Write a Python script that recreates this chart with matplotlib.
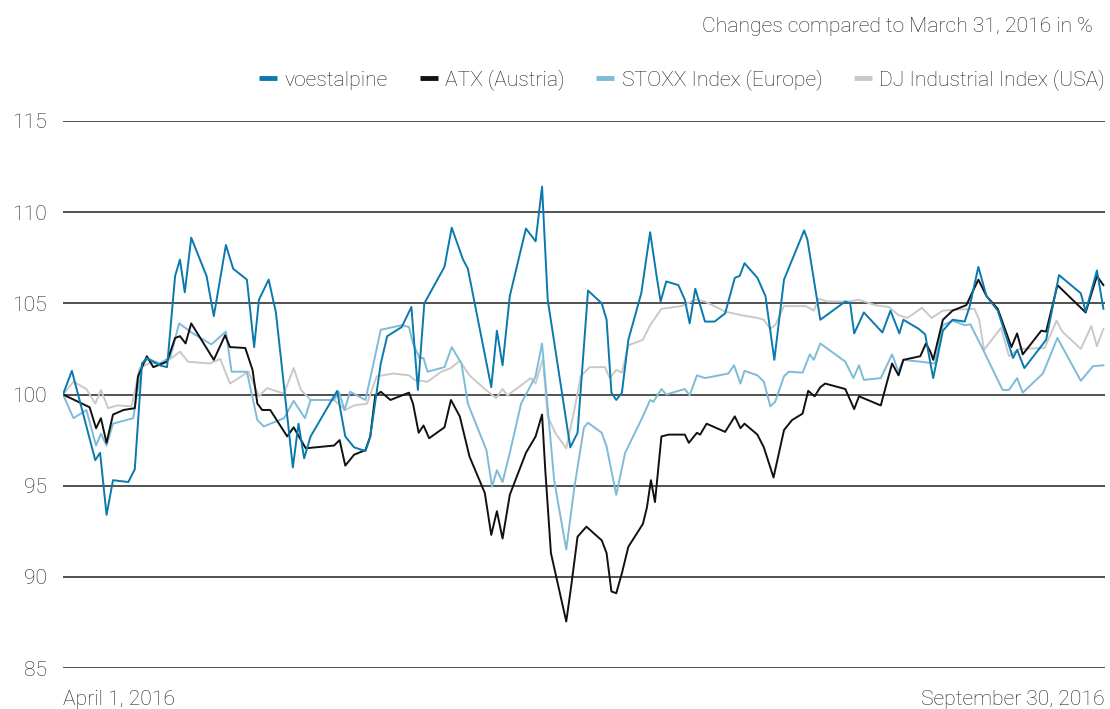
import matplotlib
matplotlib.use("Agg")
import matplotlib.pyplot as plt
from matplotlib.lines import Line2D

plt.rcParams['font.family'] = ['Roboto', 'DejaVu Sans']
plt.rcParams['font.weight'] = 'light'

# trading-day index (0 = April 1, 2016 ... 129 = September 30, 2016)
voest_x = [0, 1.1, 4.0, 4.6, 5.4, 6.2, 8.1, 8.9, 9.8, 10.4, 12.0, 12.9, 13.9, 14.5, 15.1, 15.9, 17.8, 18.7,
           20.2, 21.1, 22.8, 23.7, 24.3, 25.5, 26.4, 28.5, 29.2, 29.9, 30.7, 34.0, 34.4, 35.0, 36.1, 37.5,
           38.1, 39.4, 40.2, 42.0, 43.2, 44.0, 44.8, 47.3, 48.2, 49.6, 50.2, 53.1, 53.8, 54.5, 55.4, 57.4,
           58.6, 59.4, 60.1, 62.9, 63.8, 65.1, 66.8, 67.4, 68.0, 68.6, 69.3, 70.1, 71.7, 72.8, 73.6, 74.1,
           74.8, 76.3, 77.1, 77.7, 78.4, 79.6, 80.8, 82.1, 83.3, 83.9, 84.5, 86.1, 87.1, 88.2, 89.4, 91.9,
           92.3, 93.9, 97.0, 97.6, 98.1, 99.3, 101.6, 102.6, 103.7, 104.2, 106.1, 106.9, 107.6, 107.9,
           109.1, 110.3, 111.8, 112.4, 113.5, 114.5, 115.9, 117.8, 118.3, 119.2, 121.9, 123.5, 126.2,
           126.8, 128.2, 129.0]
voest_y = [100.0, 101.3, 96.4, 96.8, 93.4, 95.3, 95.2, 95.9, 101.7, 102.0, 101.6, 101.5, 106.5, 107.4, 105.6,
           108.6, 106.5, 104.3, 108.2, 106.9, 106.3, 102.6, 105.2, 106.3, 104.5, 96.0, 98.4, 96.5, 97.7,
           100.2, 99.15, 97.7, 97.1, 96.9, 97.7, 101.7, 103.2, 103.7, 104.8, 100.25, 105.0, 107.0, 109.15,
           107.4, 106.9, 100.4, 103.5, 101.6, 105.4, 109.1, 108.4, 111.4, 105.2, 97.1, 97.9, 105.7, 105.0,
           104.1, 100.1, 99.7, 100.1, 103.0, 105.55, 108.9, 106.5, 105.1, 106.2, 106.0, 105.2, 103.9, 105.8,
           104.0, 104.0, 104.45, 106.4, 106.5, 107.2, 106.4, 105.4, 101.9, 106.3, 109.0, 108.5, 104.1,
           105.1, 105.0, 103.35, 104.5, 103.4, 104.6, 103.35, 104.1, 103.6, 103.3, 101.6, 100.9, 103.5,
           104.1, 104.0, 104.8, 107.0, 105.4, 104.6, 102.0, 102.45, 101.45, 103.0, 106.55, 105.55, 104.55,
           106.8, 104.7]

atx_x = [0, 3.3, 4.1, 4.7, 5.4, 6.2, 7.5, 8.9, 9.3, 10.4, 11.2, 12.9, 13.9, 14.5, 15.2, 15.9, 18.7, 20.1,
         20.7, 22.6, 23.5, 24.1, 24.7, 25.7, 27.8, 28.6, 30.1, 33.6, 34.3, 35.0, 36.1, 37.5, 38.1, 38.7,
         39.4, 40.6, 42.9, 43.4, 44.1, 44.7, 45.4, 47.3, 48.1, 49.2, 50.4, 52.3, 53.1, 53.8, 54.5, 55.4,
         57.4, 58.6, 59.4, 59.8, 60.5, 62.4, 63.0, 63.8, 64.9, 66.8, 67.4, 68.0, 68.6, 69.3, 70.1, 71.9,
         72.4, 72.9, 73.4, 74.2, 75.1, 77.1, 77.6, 78.6, 79.0, 79.8, 82.1, 83.3, 84.0, 84.5, 86.1, 86.9,
         88.1, 89.4, 90.4, 91.7, 92.4, 93.2, 93.9, 94.5, 97.0, 98.1, 98.7, 101.4, 102.0, 102.8, 103.6,
         104.2, 106.3, 107.0, 107.6, 107.9, 109.1, 110.3, 112.0, 113.5, 114.5, 115.9, 117.6, 118.3,
         119.0, 121.3, 121.9, 123.3, 126.8, 128.2, 129.0]
atx_y = [100.0, 99.3, 98.15, 98.7, 97.35, 98.9, 99.15, 99.25, 101.0, 102.1, 101.5, 101.8, 103.1, 103.2,
         102.8, 103.9, 101.9, 103.25, 102.6, 102.55, 101.35, 99.5, 99.15, 99.15, 97.7, 98.2, 97.05, 97.2,
         97.5, 96.1, 96.7, 96.95, 97.7, 99.9, 100.15, 99.7, 100.1, 99.5, 97.9, 98.3, 97.6, 98.2, 99.7,
         98.8, 96.6, 94.6, 92.3, 93.6, 92.1, 94.5, 96.8, 97.7, 98.9, 95.85, 91.3, 87.55, 89.45, 92.2,
         92.75, 92.0, 91.3, 89.2, 89.1, 90.2, 91.65, 92.9, 93.8, 95.3, 94.1, 97.7, 97.8, 97.8, 97.35,
         97.9, 97.8, 98.4, 97.95, 98.8, 98.15, 98.4, 97.8, 97.1, 95.45, 98.05, 98.6, 98.95, 100.2, 99.9,
         100.4, 100.6, 100.3, 99.2, 99.9, 99.4, 100.4, 101.7, 101.05, 101.9, 102.1, 102.8, 102.3, 101.9,
         104.1, 104.6, 104.9, 106.3, 105.4, 104.7, 102.6, 103.35, 102.2, 103.5, 103.45, 106.0, 104.5,
         106.5, 106.0]

stoxx_x = [0, 1.3, 2.9, 4.1, 4.7, 5.4, 6.2, 8.7, 9.8, 10.6, 12.0, 13.3, 14.4, 16.1, 18.4, 20.2, 20.9, 22.8,
           24.1, 24.9, 27.4, 28.6, 30.0, 30.7, 33.6, 34.2, 34.9, 35.6, 37.5, 38.5, 39.4, 42.0, 42.9, 43.4,
           44.2, 44.7, 45.2, 47.3, 48.2, 49.4, 50.2, 52.5, 53.2, 53.8, 54.5, 55.4, 56.8, 58.6, 59.4, 59.9,
           60.9, 62.4, 63.4, 64.6, 65.1, 66.8, 67.4, 68.6, 69.7, 71.9, 72.8, 73.2, 74.2, 74.8, 77.1, 77.7,
           78.6, 79.6, 82.5, 83.2, 84.0, 84.5, 86.1, 86.9, 87.7, 88.3, 89.4, 90.0, 91.7, 92.6, 93.1, 93.9,
           97.0, 98.0, 98.7, 99.3, 101.4, 102.8, 103.6, 104.2, 106.3, 108.1, 109.1, 110.3, 111.8, 112.5,
           114.2, 116.5, 117.3, 118.3, 119.0, 121.5, 123.3, 126.2, 127.7, 129.0]
stoxx_y = [100.0, 98.7, 99.15, 97.2, 97.85, 97.2, 98.4, 98.7, 101.7, 101.95, 101.7, 102.05, 103.9, 103.35,
           102.75, 103.45, 101.25, 101.25, 98.6, 98.25, 98.7, 99.65, 98.7, 99.7, 99.7, 100.15, 99.15,
           100.15, 99.7, 101.7, 103.55, 103.8, 103.7, 102.8, 102.0, 102.0, 101.25, 101.5, 102.6, 101.7,
           99.5, 96.95, 94.95, 95.85, 95.2, 96.8, 99.5, 101.0, 102.8, 100.25, 95.3, 91.5, 94.9, 98.2,
           98.45, 97.9, 97.15, 94.5, 96.8, 98.8, 99.7, 99.6, 100.3, 100.0, 100.3, 99.95, 101.05, 100.9,
           101.15, 101.6, 100.6, 101.3, 101.05, 100.7, 99.35, 99.6, 101.0, 101.25, 101.2, 102.2, 101.9,
           102.8, 101.8, 100.9, 101.6, 100.8, 100.9, 102.2, 101.25, 101.9, 101.8, 101.7, 103.8, 104.05,
           103.8, 103.85, 102.35, 100.25, 100.25, 100.9, 100.1, 101.15, 103.1, 100.75, 101.55, 101.6]

dj_x = [0, 1.3, 2.9, 4.0, 4.7, 5.6, 6.7, 8.5, 9.5, 10.8, 12.0, 13.3, 14.5, 15.5, 18.2, 19.5, 20.7, 23.0,
        24.3, 25.3, 27.4, 28.6, 29.5, 30.7, 33.6, 35.0, 36.1, 37.7, 38.9, 41.0, 42.9, 43.6, 45.2, 46.9,
        48.1, 49.2, 50.4, 52.3, 53.7, 54.5, 55.1, 56.8, 58.0, 58.6, 59.5, 60.1, 61.1, 62.4, 63.4, 64.2,
        65.3, 67.2, 67.8, 68.6, 69.3, 70.1, 71.9, 72.8, 74.2, 76.7, 78.4, 79.6, 82.1, 84.1, 86.1, 86.9,
        87.7, 88.3, 89.4, 92.1, 93.1, 93.7, 94.8, 97.4, 98.7, 100.7, 102.4, 103.6, 104.7, 106.5, 107.7,
        109.1, 110.7, 113.0, 113.6, 114.2, 116.3, 117.3, 118.6, 121.7, 123.2, 123.9, 126.2, 127.5,
        128.2, 129.0]
dj_y = [100.0, 100.7, 100.3, 99.5, 100.25, 99.25, 99.4, 99.35, 101.45, 101.75, 101.7, 101.95, 102.35,
        101.8, 101.7, 101.95, 100.6, 101.25, 99.9, 100.35, 100.05, 101.45, 100.25, 99.7, 99.7, 99.15,
        99.4, 99.5, 101.0, 101.15, 101.05, 100.8, 100.7, 101.25, 101.45, 101.85, 101.05, 100.3, 99.8,
        100.3, 99.95, 100.5, 100.9, 100.6, 101.95, 98.8, 97.85, 97.05, 99.15, 101.0, 101.5, 101.5,
        100.9, 101.35, 101.2, 102.7, 103.0, 103.8, 104.7, 104.85, 105.2, 105.1, 104.55, 104.35, 104.2,
        104.1, 103.6, 103.8, 104.85, 104.85, 104.6, 105.25, 105.1, 105.1, 105.2, 104.9, 104.8, 104.35,
        104.2, 104.75, 104.2, 104.6, 104.65, 104.7, 104.1, 102.45, 103.65, 102.1, 102.5, 102.55, 104.05,
        103.45, 102.5, 103.75, 102.65, 103.6]

series_names = ["voestalpine", "ATX (Austria)", "STOXX Index (Europe)", "DJ Industrial Index (USA)"]
colors = ["#0a79ad", "#111111", "#7ebbd9", "#c9c9c9"]
y_ticks = [85, 90, 95, 100, 105, 110, 115]
x_labels = ["April 1, 2016", "September 30, 2016"]
subtitle = "Changes compared to March 31, 2016 in %"

FS = 15.2
fig = plt.figure(figsize=(11.1, 7.09), dpi=100)
ax = fig.add_axes([63 / 1110, 1 - 668 / 709, (1105 - 63) / 1110, (668 - 121) / 709])

for yv in y_ticks:
    ax.axhline(yv, color="#222222", lw=1.1, zorder=1)

data = [(dj_x, dj_y), (stoxx_x, stoxx_y), (atx_x, atx_y), (voest_x, voest_y)]
order = [3, 2, 1, 0]
for (xs, ys), i in zip(data, order):
    ax.plot(xs, ys, color=colors[i], lw=1.4, zorder=2 + (3 - i), solid_joinstyle="round")

ax.set_xlim(0, 129.2)
ax.set_ylim(85, 115)
ax.set_yticks(y_ticks)
ax.set_yticklabels([str(v) for v in y_ticks])
ax.tick_params(axis="y", length=0, pad=11.5, labelsize=FS, labelcolor="#222222")
ax.set_xticks([0, 129.2])
ax.set_xticklabels(x_labels)
ax.tick_params(axis="x", length=0, pad=15.5, labelsize=FS, labelcolor="#222222")
xl = ax.get_xticklabels()
xl[0].set_horizontalalignment("left")
xl[1].set_horizontalalignment("right")
for s in ax.spines.values():
    s.set_visible(False)

handles = [Line2D([], [], color=c, lw=3.5, solid_capstyle="butt") for c in colors]
leg = ax.legend(handles, series_names, loc="lower right", bbox_to_anchor=(1.0, 1.056), ncol=4,
                frameon=False, fontsize=FS, handlelength=0.85, handletextpad=0.35, columnspacing=1.5,
                borderaxespad=0, borderpad=0)
for t in leg.get_texts():
    t.set_color("#222222")

fig.text(1093 / 1110, 1 - 26 / 709, subtitle, ha="right", va="center", fontsize=FS, color="#222222")

fig.savefig("out.png", dpi=100)
